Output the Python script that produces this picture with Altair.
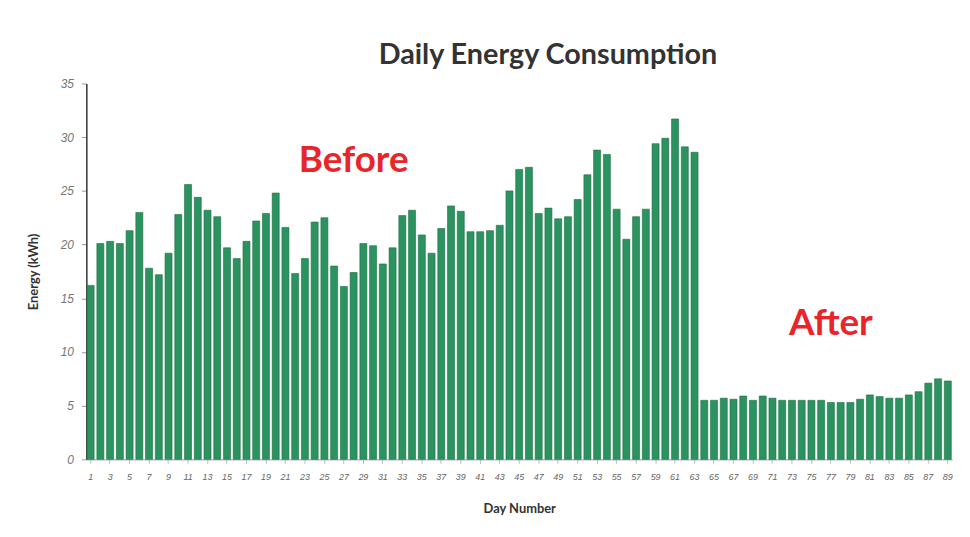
import altair as alt
import pandas as pd

days = list(range(1, 90))
energy = [
    16.2, 20.1, 20.3, 20.1, 21.3, 23.0, 17.8, 17.2, 19.2, 22.8,
    25.6, 24.4, 23.2, 22.6, 19.7, 18.7, 20.3, 22.2, 22.9, 24.8,
    21.6, 17.3, 18.7, 22.1, 22.5, 18.0, 16.1, 17.4, 20.1, 19.9,
    18.2, 19.7, 22.7, 23.2, 20.9, 19.2, 21.5, 23.6, 23.1, 21.2,
    21.2, 21.3, 21.8, 25.0, 27.0, 27.2, 22.9, 23.4, 22.4, 22.6,
    24.2, 26.5, 28.8, 28.4, 23.3, 20.5, 22.6, 23.3, 29.4, 29.9,
    31.7, 29.1, 28.6,
    5.5, 5.5, 5.7, 5.6, 5.9, 5.5, 5.9, 5.7, 5.5, 5.5,
    5.5, 5.5, 5.5, 5.3, 5.3, 5.3, 5.6, 6.0, 5.85, 5.7,
    5.7, 6.0, 6.3, 7.1, 7.5, 7.3,
]
tick_days = list(range(1, 90, 2))
note_text = ["Before", "After"]
note_day = [28, 77]
note_val = [27.8, 12.6]

df = pd.DataFrame({"day": days, "energy": energy})
notes = pd.DataFrame({"label": note_text, "day": note_day, "val": note_val})

x_scale = alt.Scale(domain=days, paddingInner=0.28, paddingOuter=0.08)
y_scale = alt.Scale(domain=[0, 35], nice=False)

bars = alt.Chart(df).mark_bar(color="#2b9360", stroke="#1d6e43", strokeWidth=0.6).encode(
    x=alt.X("day:O", scale=x_scale,
            axis=alt.Axis(title="Day Number", values=tick_days, labelAngle=0,
                          labelFont="Liberation Sans", labelFontStyle="italic",
                          labelFontSize=9, labelColor="#666666", labelPadding=9,
                          titleFont="Lato", titleFontSize=13, titleFontWeight="bold",
                          titleColor="#333333", titlePadding=22,
                          domainColor="#999999", tickColor="#bbbbbb", tickSize=4)),
    y=alt.Y("energy:Q", scale=y_scale,
            axis=alt.Axis(title="Energy (kWh)", values=[0, 5, 10, 15, 20, 25, 30, 35],
                          grid=False, labelFont="Liberation Sans", labelFontStyle="italic",
                          labelFontSize=12, labelColor="#777777", labelPadding=8,
                          titleFont="Lato", titleFontSize=13, titleFontWeight="bold",
                          titleColor="#333333", titlePadding=20,
                          domainColor="#333333", domainWidth=1.5,
                          tickColor="#999999", tickSize=5)),
)

texts = alt.Chart(notes).mark_text(
    color="#e8262a", font="Lato", fontSize=37, fontWeight="bold"
).encode(
    x=alt.X("day:O", scale=x_scale),
    y=alt.Y("val:Q", scale=y_scale),
    text="label:N",
)

chart = alt.layer(bars, texts).properties(
    width=873,
    height=379,
    title=alt.TitleParams("Daily Energy Consumption", font="Lato", fontSize=29,
                          fontWeight="bold", color="#333333", dx=29, offset=8),
    autosize=alt.AutoSizeParams(type="none"),
    padding={"left": 79, "top": 74, "right": 10, "bottom": 60},
    background="white",
).configure_view(stroke=None)

chart.save("out.html", embed_options={"renderer": "svg", "actions": False})
